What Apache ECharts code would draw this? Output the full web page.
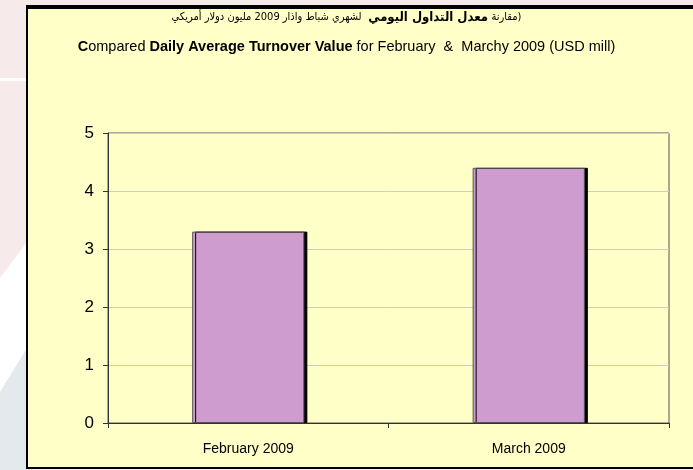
<!DOCTYPE html>
<html>
<head>
<meta charset="utf-8">
<script src="https://cdn.jsdelivr.net/npm/echarts@6/dist/echarts.min.js"></script>
<style>
  html, body { margin: 0; padding: 0; background: #fff; }
  #chart { width: 693px; height: 470px; }
</style>
</head>
<body>
<div id="chart"></div>
<script>
// data
const categories = ['February 2009', 'March 2009']
const turnover = [3.3, 4.4] // USD mill
const yTicks = [0, 1, 2, 3, 4, 5]

const chart = echarts.init(document.getElementById('chart'))

chart.setOption({
  backgroundColor: '#ffffff',
  animation: false,
  textStyle: { fontFamily: 'Liberation Sans, Arial, sans-serif' },
  graphic: [
    // page decoration behind the chart box
    { type: 'rect', z: -10, shape: { x: 0, y: 0, width: 693, height: 470 }, style: { fill: '#f7eaea' } },
    { type: 'polygon', z: -9, shape: { points: [[0, 278], [30, 238], [30, 470], [0, 470]] }, style: { fill: '#ffffff' } },
    { type: 'polygon', z: -8, shape: { points: [[0, 392], [30, 343], [30, 470], [0, 470]] }, style: { fill: '#e4e9ee' } },
    { type: 'rect', z: -8, shape: { x: 0, y: 78, width: 26, height: 3 }, style: { fill: '#ffffff' } },
    // chart box
    { type: 'rect', z: -5, shape: { x: 27, y: 8, width: 680, height: 460 }, style: { fill: '#ffffc8', stroke: '#000', lineWidth: 2 } },
    { type: 'rect', z: -4, shape: { x: 26, y: 5, width: 680, height: 4 }, style: { fill: '#000' } },
    {
      type: 'text', left: 'center', top: 11,
      style: {
        text: '{n|لشهري شباط واذار 2009 مليون دولار أمريكي}  {b|معدل التداول اليومي} {n|مقارنة)}',
        rich: {
          n: { fontSize: 11, fill: '#000', fontFamily: 'DejaVu Sans Condensed, DejaVu Sans, sans-serif' },
          b: { fontSize: 13, fontWeight: 'bold', fill: '#000', fontFamily: 'DejaVu Sans Condensed, DejaVu Sans, sans-serif' }
        }
      }
    },
    {
      type: 'text', left: 'center', top: 39,
      style: {
        text: '{b|C}{n|ompared }{b|Daily Average Turnover Value}{n| for February  &  Marchy 2009 (USD mill)}',
        rich: {
          n: { fontSize: 14.5, fill: '#000', fontFamily: 'Liberation Sans, Arial, sans-serif' },
          b: { fontSize: 14.5, fontWeight: 'bold', fill: '#000', fontFamily: 'Liberation Sans, Arial, sans-serif' }
        }
      }
    }
  ],
  grid: {
    left: 108,
    right: 24,
    top: 133,
    bottom: 47,
    show: true,
    borderColor: '#555',
    borderWidth: 1,
    backgroundColor: 'transparent'
  },
  xAxis: {
    type: 'category',
    data: categories,
    axisLine: { lineStyle: { color: '#333', width: 1 } },
    axisTick: { show: true, length: 5, lineStyle: { color: '#333' } },
    axisLabel: { color: '#000', fontSize: 14, margin: 19 }
  },
  yAxis: {
    type: 'value',
    min: yTicks[0],
    max: yTicks[yTicks.length - 1],
    interval: 1,
    axisLine: { show: true, lineStyle: { color: '#333' } },
    axisTick: { show: true, length: 5, lineStyle: { color: '#333' } },
    axisLabel: { color: '#000', fontSize: 17, margin: 14 },
    splitLine: { lineStyle: { color: '#cfcfc0', width: 1 } }
  },
  series: [{
    type: 'bar',
    data: turnover,
    barWidth: '40%',
    itemStyle: {
      color: '#cf9ccf',
      borderColor: '#555',
      borderWidth: 1,
      shadowColor: '#000',
      shadowOffsetX: 3,
      shadowOffsetY: 0,
      shadowBlur: 0
    }
  }]
})
</script>
</body>
</html>
